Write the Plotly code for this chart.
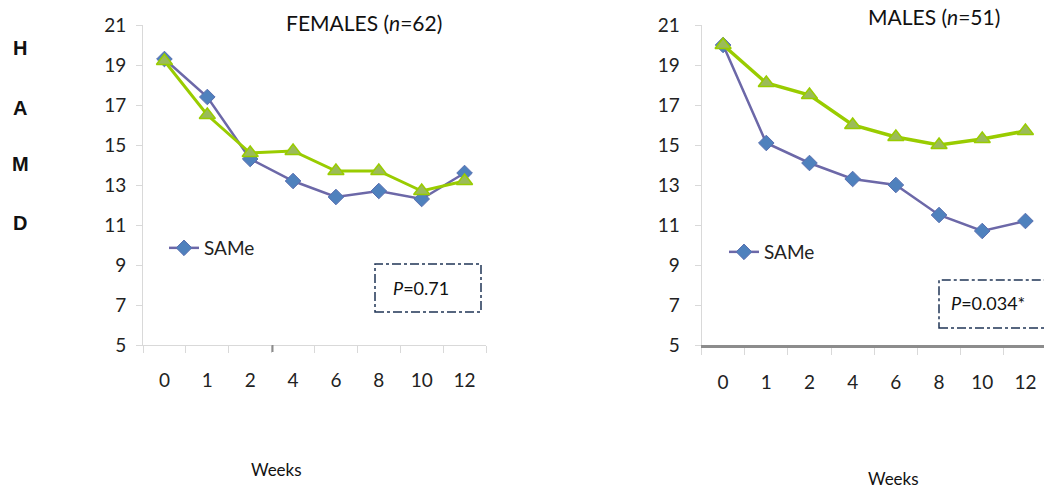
import plotly.graph_objects as go

weeks = ["0", "1", "2", "4", "6", "8", "10", "12"]
fem_same = [19.3, 17.4, 14.3, 13.2, 12.4, 12.7, 12.3, 13.6]
fem_placebo = [19.2, 16.5, 14.6, 14.7, 13.7, 13.7, 12.7, 13.2]
male_same = [20.0, 15.1, 14.1, 13.3, 13.0, 11.5, 10.7, 11.2]
male_placebo = [20.0, 18.1, 17.5, 16.0, 15.4, 15.0, 15.3, 15.7]
y_ticks = [5, 7, 9, 11, 13, 15, 17, 19, 21]

FONT = "Lato"
SAME_LINE = "#6c68a8"
SAME_FILL = "#4f81bd"
PLAC_LINE = "#99cc00"
PLAC_FILL = "#9bbb59"

fig = go.Figure()

def add_pair(same, plac, xa, ya, leg, lw_same, lw_plac):
    fig.add_trace(go.Scatter(
        x=weeks, y=same, xaxis=xa, yaxis=ya, mode="lines+markers",
        name="SAMe", legend=leg,
        line=dict(color=SAME_LINE, width=lw_same),
        marker=dict(symbol="diamond", size=12, color=SAME_FILL,
                    line=dict(color="#5a6fb0", width=1)),
    ))
    fig.add_trace(go.Scatter(
        x=weeks, y=plac, xaxis=xa, yaxis=ya, mode="lines+markers",
        name="Placebo", showlegend=False,
        line=dict(color=PLAC_LINE, width=lw_plac),
        marker=dict(symbol="triangle-up", size=14, color=PLAC_FILL,
                    line=dict(color=PLAC_LINE, width=1.5)),
    ))

add_pair(fem_same, fem_placebo, "x", "y", "legend", 2.5, 3)
add_pair(male_same, male_placebo, "x2", "y2", "legend2", 2.5, 3.5)

ydom = [1 - 345 / 491, 1 - 25 / 491]
xcommon = dict(type="category", tickson="boundaries", ticks="outside",
               ticklen=7, tickcolor="#d9d9d9", showgrid=False, zeroline=False,
               tickfont=dict(family=FONT, size=19, color="#222"),
               ticklabelstandoff=18, automargin=False)
ycommon = dict(range=[5, 21], tickvals=y_ticks, ticks="outside", ticklen=6,
               tickcolor="#d9d9d9", showline=True, linecolor="#d9d9d9",
               linewidth=1, showgrid=False, zeroline=False,
               tickfont=dict(family=FONT, size=19, color="#222"),
               domain=ydom, automargin=False)

fig.update_layout(
    width=1044, height=491, autosize=False,
    margin=dict(l=0, r=0, t=0, b=0, pad=0, autoexpand=False),
    paper_bgcolor="white", plot_bgcolor="white",
    xaxis=dict(domain=[143 / 1044, 486 / 1044], range=[-0.5, 7.5],
               showline=True, linecolor="#d9d9d9", linewidth=1,
               anchor="y", **xcommon),
    yaxis=dict(anchor="x", ticklabelstandoff=6, **ycommon),
    xaxis2=dict(domain=[701.5 / 1044, 1.0], range=[-0.5, 7.43],
                showline=True, linecolor="#8c8c8c", linewidth=3,
                anchor="y2", **xcommon),
    yaxis2=dict(anchor="x2", ticklabelstandoff=11, **ycommon),
    legend=dict(x=164 / 1044, y=1 - 248 / 491, xanchor="left", yanchor="middle",
                bgcolor="rgba(0,0,0,0)", font=dict(family=FONT, size=19, color="#222")),
    legend2=dict(x=724 / 1044, y=1 - 252 / 491, xanchor="left", yanchor="middle",
                 bgcolor="rgba(0,0,0,0)", font=dict(family=FONT, size=19, color="#222")),
    showlegend=True,
)

annotations = [
    dict(text="FEMALES (<i>n</i>=62)", x=364 / 1044, y=1 - 22 / 491, size=21),
    dict(text="MALES (<i>n</i>=51)", x=934 / 1044, y=1 - 17 / 491, size=21),
    dict(text="Weeks", x=276 / 1044, y=1 - 469 / 491, size=17),
    dict(text="Weeks", x=893 / 1044, y=1 - 478 / 491, size=17),
    dict(text="<i>P</i>=0.71", x=421 / 1044, y=1 - 288 / 491, size=18),
    dict(text="<i>P</i>=0.034*", x=988 / 1044, y=1 - 303 / 491, size=18),
]
for a in annotations:
    fig.add_annotation(text=a["text"], x=a["x"], y=a["y"], xref="paper", yref="paper",
                       showarrow=False, xanchor="center", yanchor="middle",
                       font=dict(family=FONT, size=a["size"], color="#111"))

for letter, yy in zip("HAMD", [48, 108, 164, 223]):
    fig.add_annotation(text=f"<b>{letter}</b>", x=20 / 1044, y=1 - yy / 491,
                       xref="paper", yref="paper", showarrow=False,
                       xanchor="center", yanchor="middle",
                       font=dict(family="Liberation Sans", size=20, color="#111"))

# dash-dot P-value boxes
fig.add_shape(type="rect", xref="paper", yref="paper",
              x0=375 / 1044, x1=481 / 1044, y0=1 - 312 / 491, y1=1 - 264 / 491,
              line=dict(color="#1f3455", width=1.5, dash="dashdot"))
fig.add_shape(type="rect", xref="paper", yref="paper",
              x0=939 / 1044, x1=1.02, y0=1 - 328 / 491, y1=1 - 280 / 491,
              line=dict(color="#1f3455", width=1.5, dash="dashdot"))
# darker tick stub on the left x-axis
fig.add_shape(type="line", xref="paper", yref="paper",
              x0=272.5 / 1044, x1=272.5 / 1044, y0=1 - 352 / 491, y1=1 - 345 / 491,
              line=dict(color="#8c8c8c", width=2))

fig.write_html("out.html", config={"displayModeBar": False},
               post_script="document.body.style.margin='0';document.body.style.overflow='hidden';")
